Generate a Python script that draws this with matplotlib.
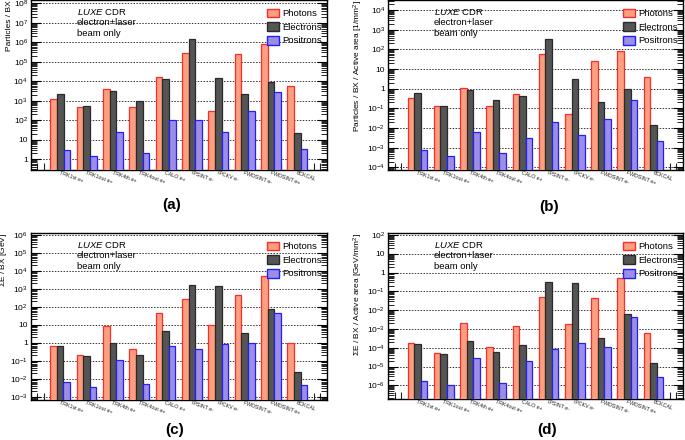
import numpy as np
import matplotlib
matplotlib.use("Agg")
import matplotlib.pyplot as plt
from matplotlib.patches import Patch
from matplotlib.ticker import FixedLocator, FuncFormatter, LogLocator, NullFormatter

plt.rcParams["font.family"] = ["Liberation Sans", "DejaVu Sans"]
plt.rcParams["mathtext.fontset"] = "custom"
plt.rcParams["mathtext.rm"] = "Liberation Sans"
plt.rcParams["mathtext.it"] = "Liberation Sans:italic"

detectors = ["TRK1st e+", "TRK1out e+", "TRK4th e+", "TRK4out e+", "CALO e+",
             "IPSINT e-", "IPCKV e-", "FWDSINT e-", "FWDSINT e+", "BCKCAL"]

# (a) particles / BX
a_photons = [1200, 480, 4200, 500, 17400, 2.7e5, 290, 2.4e5, 8.2e5, 5500]
a_electrons = [2150, 520, 3100, 940, 12600, 1.55e6, 14800, 2150, 9600, 21]
a_positrons = [2.9, 1.27, 24, 2.0, 100, 100, 24, 290, 2750, 3.4]

# (b) particles / BX / active area
b_photons = [0.32, 0.13, 1.12, 0.14, 0.56, 56, 0.054, 24.5, 85, 3.9]
b_electrons = [0.58, 0.14, 0.85, 0.26, 0.42, 320, 3.1, 0.21, 0.96, 0.0138]
b_positrons = [7.6e-4, 3.5e-4, 6e-3, 5.2e-4, 3.2e-3, 0.0195, 4.6e-3, 0.028, 0.28, 2.3e-3]

# (c) energy / BX
c_photons = [0.68, 0.2, 8.1, 0.43, 43, 255, 9.2, 465, 5300, 1.0]
c_electrons = [0.63, 0.175, 0.92, 0.22, 4.4, 1540, 1350, 3.4, 71, 0.022]
c_positrons = [6.3e-3, 3.2e-3, 0.105, 4.9e-3, 0.65, 0.43, 0.84, 1.0, 43, 4.1e-3]

# (d) energy / BX / active area
d_photons = [1.7e-4, 5e-5, 2e-3, 1.14e-4, 1.4e-3, 0.049, 1.8e-3, 0.047, 0.5, 6.3e-4]
d_electrons = [1.58e-4, 4.5e-5, 2.4e-4, 5.7e-5, 1.4e-4, 0.3, 0.27, 3.4e-4, 6.6e-3, 1.5e-5]
d_positrons = [1.7e-6, 9e-7, 2.7e-5, 1.26e-6, 2.0e-5, 8.2e-5, 1.7e-4, 1.05e-4, 4.3e-3, 2.6e-6]

ylabels = ["Particles / BX",
           "Particles / BX / Active area [1/mm$^{2}$]",
           "$\\Sigma$E / BX [GeV]",
           "$\\Sigma$E / BX / Active area [GeV/mm$^{2}$]"]
panel_tags = ["(a)", "(b)", "(c)", "(d)"]

styles = {
    "Photons": ("#fa9f7f", "#ff2a2a"),
    "Electrons": ("#555555", "#2a2a2a"),
    "Positrons": ("#9d8de3", "#2020ff"),
}


def sci_label(v, pos):
    n = int(round(np.log10(v)))
    if n == 0:
        return "1"
    if n == 1:
        return "10"
    return f"$10^{{{n}}}$"


def draw_panel(ax, photons, electrons, positrons, ylim, ylabel, labelpad):
    groups = np.arange(len(detectors))
    base = 3 + 4 * groups
    for k, (name, vals) in enumerate([("Photons", photons), ("Electrons", electrons),
                                      ("Positrons", positrons)]):
        face, edge = styles[name]
        ax.bar(base + k, vals, width=1.0, align="edge", color=face,
               edgecolor=edge, linewidth=0.9, bottom=ylim[0] * 0.5, zorder=3)

    ax.set_yscale("log")
    ax.set_xlim(0, 45)
    ax.set_ylim(*ylim)

    ax.yaxis.set_major_locator(LogLocator(base=10, numticks=20))
    ax.yaxis.set_major_formatter(FuncFormatter(sci_label))
    ax.yaxis.set_minor_locator(LogLocator(base=10, subs=np.arange(2, 10), numticks=20))
    ax.yaxis.set_minor_formatter(NullFormatter())
    ax.tick_params(axis="y", which="major", direction="in", length=7, width=0.8,
                   labelsize=6, pad=2)
    ax.tick_params(axis="y", which="minor", direction="in", length=4, width=0.6)
    ax.tick_params(axis="y", which="both", right=True)

    ax.xaxis.set_major_locator(FixedLocator(base + 1.5))
    ax.set_xticklabels([])
    ax.xaxis.set_minor_locator(FixedLocator(np.arange(1, 45)))
    ax.tick_params(axis="x", which="major", length=0)
    ax.tick_params(axis="x", which="minor", direction="in", length=5, width=0.8,
                   color="#222222")
    for g, lab in zip(groups, detectors):
        ax.text(base[g] + 1.5, ylim[0], lab, transform=ax.transData,
                rotation=-20, rotation_mode="anchor", ha="left", va="top",
                fontsize=3.8, color="#222222")

    ax.grid(axis="y", which="major", linestyle=(0, (1.5, 1.5)), color="#333333",
            linewidth=0.7, zorder=1)
    ax.set_axisbelow(True)
    for s in ax.spines.values():
        s.set_linewidth(1.0)
    ax.set_ylabel(ylabel, fontsize=6, labelpad=labelpad, loc="top")

    # text block, positioned in pixels from the top of the axes
    h = ax.get_position().height * 440
    top = 1.0 - 7 / h
    ax.text(0.156, top, "$\\it{LUXE}$ CDR", transform=ax.transAxes, fontsize=6.8,
            va="top", ha="left")
    ax.text(0.156, top - 10.8 / h, "electron+laser", transform=ax.transAxes,
            fontsize=6.8, va="top", ha="left")
    ax.text(0.156, top - 21.6 / h, "beam only", transform=ax.transAxes,
            fontsize=6.8, va="top", ha="left")

    handles = [Patch(facecolor=styles[n][0], edgecolor=styles[n][1], linewidth=1.0,
                     label=n) for n in ["Photons", "Electrons", "Positrons"]]
    ax.legend(handles=handles, loc="upper right", bbox_to_anchor=(1.0, 1.0 - 4 / h),
              frameon=False, fontsize=6.8, handlelength=1.25, handleheight=1.05,
              handletextpad=0.35, labelspacing=0.42, borderaxespad=0.3,
              borderpad=0.2)


fig = plt.figure(figsize=(6.85, 4.4), dpi=100)
W, H = 685.0, 440.0
boxes = [(30.7, 327, 0, 170), (388, 683, 0, 170), (30.5, 327, 233, 400), (388, 683, 233, 399)]
ylims = [(10 ** -0.55, 10 ** 8.17), (10 ** -4.13, 10 ** 4.51),
         (10 ** -3.18, 10 ** 6.09), (10 ** -6.73, 10 ** 2.11)]
data = [(a_photons, a_electrons, a_positrons), (b_photons, b_electrons, b_positrons),
        (c_photons, c_electrons, c_positrons), (d_photons, d_electrons, d_positrons)]
pads = [0.5, 2, 0.5, 2]
tag_pos = [(172, 205), (549, 207), (175, 430), (547, 430)]

for i in range(4):
    x0, x1, y0, y1 = boxes[i]
    ax = fig.add_axes([x0 / W, 1 - y1 / H, (x1 - x0) / W, (y1 - y0) / H])
    draw_panel(ax, *data[i], ylims[i], ylabels[i], pads[i])
    fig.text(tag_pos[i][0] / W, 1 - tag_pos[i][1] / H, panel_tags[i], ha="center",
             va="center", fontsize=11, fontweight="bold")

fig.savefig("out.png", dpi=100)
